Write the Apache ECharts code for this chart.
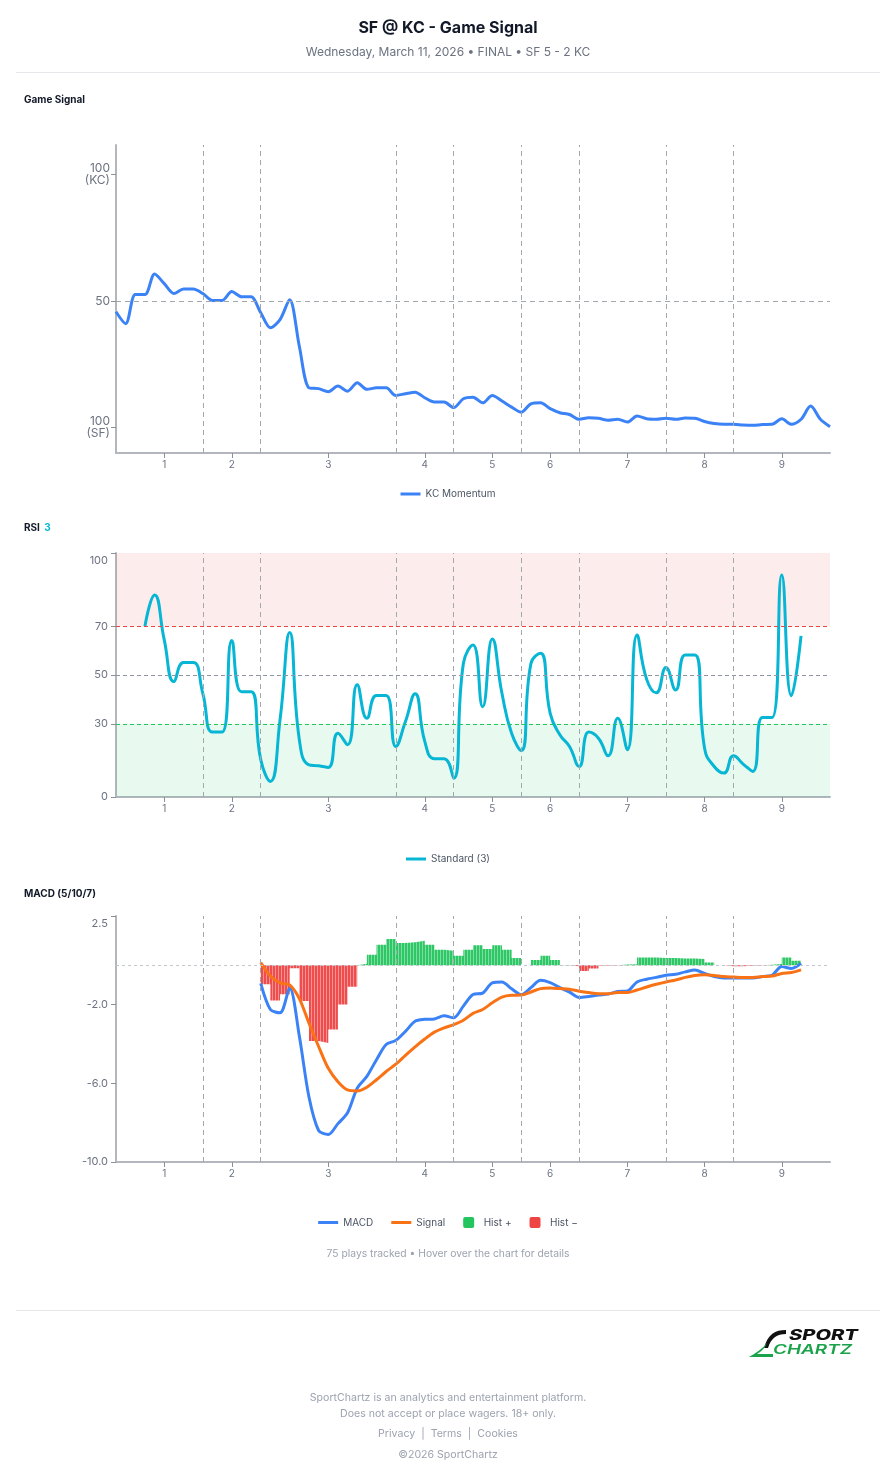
<!DOCTYPE html>
<html>
<head>
<meta charset="utf-8">
<title>SF @ KC - Game Signal</title>
<script src="https://cdn.jsdelivr.net/npm/echarts@6/dist/echarts.min.js"></script>
<style>
  html, body { margin: 0; padding: 0; background: #fff; }
  body { width: 896px; height: 1480px; position: relative; font-family: Inter, 'Noto Sans', sans-serif; overflow: hidden; }
  #chart { position: absolute; left: 0; top: 0; width: 896px; height: 1480px; }
  .txt { position: absolute; left: 0; width: 896px; text-align: center; z-index: 2; }
  .title { top: 16px; font-size: 16px; line-height: 22px; font-weight: 700; color: #111827; }
  .sub { top: 44px; font-size: 12px; line-height: 16px; color: #6b7280; }
  .rule { position: absolute; left: 16px; width: 864px; height: 1px; background: #e5e7eb; }
  .note { top: 1246px; font-size: 10.3px; line-height: 14px; color: #9ca3af; }
  .foot { font-size: 10.6px; line-height: 14px; color: #9ca3af; }
  .logo { position: absolute; left: 748px; top: 1326px; z-index: 2; }
</style>
</head>
<body>
<div id="chart"></div>

<div class="txt title">SF @ KC - Game Signal</div>
<div class="txt sub">Wednesday, March 11, 2026 • FINAL • SF 5 - 2 KC</div>
<div class="rule" style="top:72px"></div>

<div class="txt note">75 plays tracked • Hover over the chart for details</div>
<div class="rule" style="top:1310px"></div>

<svg class="logo" width="118" height="34" viewBox="0 0 118 34">
  <path d="M38 4 C27 4 20 8 16 22 L20 22 C23 12 29 8 38 8 Z" fill="#111"/>
  <path d="M1 31 L25 31 L25 28 L9 28 C14 25 17 22 19 17 C14 23 8 27 1 31 Z" fill="#1aa34a"/>
  <text x="41" y="14" font-family="Inter, sans-serif" font-size="14" font-weight="800" font-style="italic" fill="#111" textLength="69" lengthAdjust="spacingAndGlyphs">SPORT</text>
  <text x="25" y="28" font-family="Inter, sans-serif" font-size="13" font-weight="600" font-style="italic" fill="#1aa34a" textLength="79" lengthAdjust="spacingAndGlyphs">CHARTZ</text>
</svg>

<div class="txt foot" style="top:1391px">SportChartz is an analytics and entertainment platform.</div>
<div class="txt foot" style="top:1407px">Does not accept or place wagers. 18+ only.</div>
<div class="txt foot" style="top:1427px">Privacy &nbsp;|&nbsp; Terms &nbsp;|&nbsp; Cookies</div>
<div class="txt foot" style="top:1448px">©2026 SportChartz</div>

<script>
// innings: label position (play index) and the play where each new inning starts
const inningLabels = ['1', '2', '3', '4', '5', '6', '7', '8', '9'];
const inningLabelPlays = [5, 12, 22, 32, 39, 45, 53, 61, 69];
const inningBreaks = [9, 15, 29, 35, 42, 48, 57, 64];

// KC momentum per play (0 = SF 100, 100 = KC 100), plays 0..74
const momentum = [
  45.7, 41, 52.5, 52.5, 60.6, 56.8, 52.9, 54.7, 54.7, 52.9,
  50.2, 50.2, 53.7, 51.6, 51.6, 45.3, 39.4, 42.6, 50.5, 32.1,
  15.7, 15.4, 14.2, 16.4, 14.4, 17.7, 15.1, 15.7, 15.7, 12.7,
  13.4, 14.0, 11.8, 10.1, 10.1, 7.9, 11.4, 12.0, 9.8, 12.7,
  10.5, 8.1, 6.1, 9.4, 9.8, 7.5, 5.9, 5.2, 3.3, 3.9,
  3.7, 2.9, 3.3, 2.2, 4.6, 3.5, 3.3, 3.7, 3.3, 3.8,
  3.7, 2.4, 1.6, 1.3, 1.3, 1.0, 0.9, 1.2, 1.3, 3.5,
  1.3, 3.3, 8.5, 3.3, 0.4
];

// RSI(3), starts at play 3
const rsiStart = 3;
const rsi = [
  70.1, 82.8, 64.4, 47.3, 55.1, 55.1, 42.4, 26.6, 26.6, 64.1,
  43.1, 43.1, 15.3, 6.4, 31.6, 67.4, 23.5, 13.2, 12.8, 12.1,
  26.1, 21.4, 46.0, 32.3, 41.6, 41.6, 20.7, 30.9, 42.3, 22.8,
  15.7, 15.7, 7.7, 54.7, 62.3, 37.0, 64.8, 42.5, 26.1, 19.0,
  54.6, 58.9, 34.3, 25.5, 20.7, 12.5, 26.6, 24.1, 16.9, 32.3,
  19.4, 66.4, 48.2, 42.7, 53.1, 43.9, 58.2, 58.2, 20.0, 12.5,
  9.8, 16.9, 13.5, 10.5, 32.6, 32.6, 91.0, 41.5, 66.0
];

// MACD (5/10/7), starts at play 15
const macdStart = 15;
const macd = [
  -0.92, -2.25, -2.42, -1.16, -3.6, -6.7, -8.4, -8.6, -8.05, -7.5,
  -6.25, -5.65, -4.8, -4.03, -3.82, -3.36, -2.85, -2.75, -2.73, -2.57,
  -2.67, -2.08, -1.49, -1.42, -0.9, -0.85, -1.2, -1.5, -1.14, -0.77,
  -0.89, -1.14, -1.37, -1.64, -1.59, -1.52, -1.47, -1.34, -1.31, -0.85,
  -0.71, -0.62, -0.51, -0.46, -0.34, -0.24, -0.42, -0.58, -0.65, -0.65,
  -0.65, -0.65, -0.58, -0.51, -0.07, -0.17, 0.09
];
const signal = [
  0.14, -0.55, -0.9, -1.0, -1.7, -2.95, -4.13, -5.24, -5.92, -6.34,
  -6.39, -6.2, -5.82, -5.4, -5.03, -4.58, -4.15, -3.75, -3.4, -3.18,
  -3.02, -2.8, -2.45, -2.25, -1.91, -1.62, -1.53, -1.52, -1.36, -1.19,
  -1.16, -1.19, -1.22, -1.32, -1.39, -1.45, -1.45, -1.39, -1.39, -1.26,
  -1.11, -0.97, -0.85, -0.75, -0.62, -0.52, -0.49, -0.52, -0.58, -0.6,
  -0.62, -0.62, -0.58, -0.55, -0.42, -0.37, -0.24
];
const hist = [
  -0.97, -1.79, -1.48, -0.15, -1.82, -3.85, -3.95, -3.27, -2.0, -1.09,
  0.08, 0.53, 1.04, 1.33, 1.13, 1.16, 1.24, 1.04, 0.78, 0.73,
  0.48, 0.78, 1.02, 0.82, 1.02, 0.78, 0.36, 0.0, 0.26, 0.48,
  0.26, 0.01, -0.05, -0.29, -0.17, -0.03, -0.02, 0.03, 0.05, 0.39,
  0.39, 0.36, 0.36, 0.34, 0.34, 0.31, 0.14, 0.0, -0.05, -0.05,
  -0.03, -0.02, 0.02, 0.06, 0.39, 0.22, 0.36
];

const BLUE = '#3b82f6';
const TEAL = '#06b6d4';
const ORANGE = '#f97316';
const GREEN = '#22c55e';
const RED = '#ef4444';
const AXIS = '#b3b7bd';
const LABEL = '#6b7280';
const GRID_DASH = '#a3a7ae';

// legend icons: flat line for line series, rounded square for histogram
const LINE_ICON = 'path://M0,0H20V3H0Z';
const BOX_ICON = 'path://M2,0H9A2,2,0,0,1,11,2V9A2,2,0,0,1,9,11H2A2,2,0,0,1,0,9V2A2,2,0,0,1,2,0Z';

const pairs = (start, arr) => arr.map((v, k) => [start + k, v]);

// striped fill for histogram areas
function stripes(color) {
  const c = document.createElement('canvas');
  c.width = 3;
  c.height = 3;
  const ctx = c.getContext('2d');
  ctx.fillStyle = color;
  ctx.fillRect(0, 0, 3, 3);
  ctx.fillStyle = 'rgba(255,255,255,0.4)';
  ctx.fillRect(2, 0, 1, 3);
  return c;
}

const grids = [
  { left: 116, top: 145, width: 714, height: 308 },
  { left: 116, top: 553, width: 714, height: 244 },
  { left: 116, top: 916, width: 714, height: 246 },
];

const xAxisFor = (g) => ({
  type: 'value',
  gridIndex: g,
  min: 0,
  max: 74,
  axisLine: { show: true, onZero: false, lineStyle: { color: AXIS, width: 2 } },
  axisTick: { show: true, customValues: inningLabelPlays, length: 5, lineStyle: { color: '#8b9099' } },
  axisLabel: {
    customValues: inningLabelPlays,
    formatter: (v) => inningLabels[inningLabelPlays.indexOf(v)],
    color: LABEL,
    fontSize: 10,
    margin: 7,
  },
  splitLine: { show: false },
});

const yBase = {
  type: 'value',
  axisLine: { show: true, lineStyle: { color: AXIS, width: 2 } },
  axisTick: { show: true, length: 5, lineStyle: { color: '#8b9099' } },
  splitLine: { show: false },
};

const dash = (color, type) => ({ color: color, width: 1, type: type || [5, 4] });
const breakLines = inningBreaks.map((b) => ({ xAxis: b, lineStyle: dash(GRID_DASH) }));

const legendBase = {
  left: 'center', padding: 0, itemWidth: 20, itemHeight: 11, itemGap: 18,
  textStyle: { fontSize: 10, color: '#4b5563' },
};

const myChart = echarts.init(document.getElementById('chart'));

myChart.setOption({
  animation: false,
  textStyle: { fontFamily: 'Inter, "Noto Sans", sans-serif' },
  title: [
    { text: 'Game Signal', left: 24, top: 95, padding: 0, textStyle: { fontSize: 10, fontWeight: 700, color: '#111827' } },
    {
      text: '{a|RSI} {b|3}', left: 24, top: 519, padding: 0,
      textStyle: {
        rich: {
          a: { fontSize: 10, fontWeight: 700, color: '#111827' },
          b: { fontSize: 10, fontWeight: 700, color: TEAL },
        },
      },
    },
    { text: 'MACD (5/10/7)', left: 24, top: 889, padding: 0, textStyle: { fontSize: 10, fontWeight: 700, color: '#111827' } },
  ],
  legend: [
    Object.assign({}, legendBase, { top: 489, data: [{ name: 'KC Momentum', icon: LINE_ICON }] }),
    Object.assign({}, legendBase, { top: 854, data: [{ name: 'Standard (3)', icon: LINE_ICON }] }),
    Object.assign({}, legendBase, {
      top: 1217,
      data: [
        { name: 'MACD', icon: LINE_ICON },
        { name: 'Signal', icon: LINE_ICON },
        { name: 'Hist +', icon: BOX_ICON },
        { name: 'Hist \u2212', icon: BOX_ICON },
      ],
    }),
  ],
  grid: grids.map((g) => Object.assign({ outerBoundsMode: 'none' }, g)),
  xAxis: [xAxisFor(0), xAxisFor(1), xAxisFor(2)],
  yAxis: [
    Object.assign({}, yBase, {
      gridIndex: 0,
      min: -10,
      max: 111.5,
      axisTick: Object.assign({}, yBase.axisTick, { customValues: [0, 50, 100] }),
      axisLabel: {
        customValues: [0, 50, 100],
        formatter: (v) => (v === 100 ? '100\n(KC)' : v === 0 ? '100\n(SF)' : String(v)),
        color: LABEL,
        fontSize: 12,
        lineHeight: 12,
        margin: 6,
      },
    }),
    Object.assign({}, yBase, {
      gridIndex: 1,
      min: 0,
      max: 100,
      axisTick: Object.assign({}, yBase.axisTick, { customValues: [0, 30, 50, 70, 100] }),
      axisLabel: {
        customValues: [0, 30, 50, 70, 100],
        formatter: (v) => (v === 100 ? '{top|100}' : String(v)),
        color: LABEL,
        fontSize: 11,
        margin: 8,
        rich: { top: { color: LABEL, fontSize: 11, padding: [16, 0, 0, 0] } },
      },
    }),
    Object.assign({}, yBase, {
      gridIndex: 2,
      min: -10,
      max: 2.5,
      axisTick: Object.assign({}, yBase.axisTick, { customValues: [-10, -6, -2, 2.5] }),
      axisLabel: {
        customValues: [-10, -6, -2, 2.5],
        formatter: (v) => (v === 2.5 ? '{top|2.5}' : v.toFixed(1)),
        color: LABEL,
        fontSize: 11,
        margin: 8,
        rich: { top: { color: LABEL, fontSize: 11, padding: [15, 0, 0, 0] } },
      },
    }),
  ],
  series: [
    {
      name: 'KC Momentum',
      type: 'line',
      xAxisIndex: 0,
      yAxisIndex: 0,
      data: pairs(0, momentum),
      smooth: 0.3,
      symbol: 'none',
      color: BLUE,
      lineStyle: { color: BLUE, width: 3 },
      markLine: {
        silent: true,
        symbol: ['none', 'none'],
        label: { show: false },
        data: breakLines.concat([{ yAxis: 50, lineStyle: dash(GRID_DASH) }]),
      },
    },
    {
      name: 'Standard (3)',
      type: 'line',
      xAxisIndex: 1,
      yAxisIndex: 1,
      data: pairs(rsiStart, rsi),
      smooth: 0.5,
      symbol: 'none',
      color: TEAL,
      lineStyle: { color: TEAL, width: 3 },
      markArea: {
        silent: true,
        data: [
          [{ yAxis: 70, itemStyle: { color: 'rgba(239,68,68,0.1)' } }, { yAxis: 100 }],
          [{ yAxis: 0, itemStyle: { color: 'rgba(34,197,94,0.1)' } }, { yAxis: 30 }],
        ],
      },
      markLine: {
        silent: true,
        symbol: ['none', 'none'],
        label: { show: false },
        data: breakLines.concat([
          { yAxis: 70, lineStyle: dash(RED, [4, 3]) },
          { yAxis: 50, lineStyle: dash('#9095a0', [4, 3]) },
          { yAxis: 30, lineStyle: dash(GREEN, [4, 3]) },
        ]),
      },
    },
    {
      name: 'Hist +',
      type: 'line',
      xAxisIndex: 2,
      yAxisIndex: 2,
      step: 'end',
      data: pairs(macdStart, hist.map((v) => (v > 0 ? v : 0))),
      symbol: 'none',
      color: GREEN,
      lineStyle: { opacity: 0 },
      areaStyle: { color: { image: stripes(GREEN), repeat: 'repeat' }, opacity: 0.95 },
    },
    {
      name: 'Hist \u2212',
      type: 'line',
      xAxisIndex: 2,
      yAxisIndex: 2,
      step: 'end',
      data: pairs(macdStart, hist.map((v) => (v < 0 ? v : 0))),
      symbol: 'none',
      color: RED,
      lineStyle: { opacity: 0 },
      areaStyle: { color: { image: stripes(RED), repeat: 'repeat' }, opacity: 0.95 },
    },
    {
      name: 'MACD',
      type: 'line',
      xAxisIndex: 2,
      yAxisIndex: 2,
      data: pairs(macdStart, macd),
      smooth: 0.3,
      symbol: 'none',
      color: BLUE,
      lineStyle: { color: BLUE, width: 3 },
      markLine: {
        silent: true,
        symbol: ['none', 'none'],
        label: { show: false },
        data: breakLines.concat([{ yAxis: 0, lineStyle: dash('#c3c6cc', [3, 3]) }]),
      },
    },
    {
      name: 'Signal',
      type: 'line',
      xAxisIndex: 2,
      yAxisIndex: 2,
      data: pairs(macdStart, signal),
      smooth: 0.3,
      symbol: 'none',
      color: ORANGE,
      lineStyle: { color: ORANGE, width: 3 },
    },
  ],
});
</script>
</body>
</html>
